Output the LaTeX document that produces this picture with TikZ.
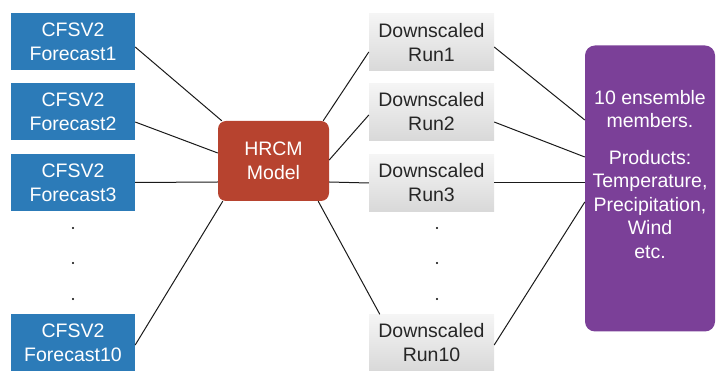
\documentclass[tikz,border=0pt]{standalone}
\usepackage{fontspec}
\setmainfont{Liberation Sans}
\definecolor{cfsblue}{HTML}{2C7BB8}
\definecolor{hrred}{HTML}{B7432F}
\definecolor{prodpurple}{HTML}{7B4098}
\definecolor{linegray}{HTML}{1A1A1A}
\tikzset{
  fcbox/.style={rectangle, fill=cfsblue, text=white, minimum width=124pt, minimum height=57pt, align=center, inner sep=0pt, font=\fontsize{19.5pt}{24pt}\selectfont},
  runbox/.style={rectangle, top color=gray!8, bottom color=gray!30, text=black!85, minimum width=125pt, minimum height=57pt, align=center, inner sep=0pt, font=\fontsize{19.5pt}{24pt}\selectfont},
  modelbox/.style={rectangle, rounded corners=8pt, fill=hrred, text=white, minimum width=111pt, minimum height=80pt, align=center, inner sep=0pt, font=\fontsize{19.5pt}{24pt}\selectfont},
  prodbox/.style={rectangle, rounded corners=10pt, fill=prodpurple, minimum width=130pt, minimum height=286pt, inner sep=0pt},
  prodtext/.style={text=white, align=center, inner sep=0pt, font=\fontsize{19.5pt}{23.5pt}\selectfont},
  dotmark/.style={circle, fill=black, minimum size=2.4pt, inner sep=0pt},
  conn/.style={draw=linegray, line width=1pt}
}
\begin{document}
\begin{tikzpicture}[x=1pt, y=-1pt]
\useasboundingbox (0,0) rectangle (726,371);
% left column
\node[fcbox] (f1) at (73,41.5) {CFSV2\\Forecast1};
\node[fcbox] (f2) at (73,111.5) {CFSV2\\Forecast2};
\node[fcbox] (f3) at (73,182.5) {CFSV2\\Forecast3};
\node[fcbox] (f10) at (73,342.5) {CFSV2\\Forecast10};
\node[dotmark] (fd1) at (73,228) {};
\node[dotmark] (fd2) at (73,263) {};
\node[dotmark] (fd3) at (73,299) {};
% model
\node[modelbox] (hr) at (273.5,161) {HRCM\\Model};
% runs
\node[runbox] (r1) at (431.5,42.5) {Downscaled\\Run1};
\node[runbox] (r2) at (431.5,112) {Downscaled\\Run2};
\node[runbox] (r3) at (431.5,183) {Downscaled\\Run3};
\node[runbox] (r10) at (431.5,343) {Downscaled\\Run10};
\node[dotmark] (rd1) at (437,228) {};
\node[dotmark] (rd2) at (437,263) {};
\node[dotmark] (rd3) at (437,299) {};
% products
\node[prodbox] (pr) at (650,188.5) {};
\node[prodtext] (ptxt) at (650,174.5) {10 ensemble\\members.\\[13pt]Products:\\Temperature,\\Precipitation,\\Wind\\etc.};
% connectors left
\draw[conn] ([yshift=-5.5pt]f1.east) -- ([xshift=4pt]hr.north west);
\draw[conn] ([yshift=-10.5pt]f2.east) -- ([yshift=8pt]hr.west);
\draw[conn] ([yshift=0pt]f3.east) -- ([yshift=-21pt]hr.west);
\draw[conn] ([yshift=-2.5pt]f10.east) -- ([xshift=5pt]hr.south west);
% connectors middle
\draw[conn] ([xshift=-6pt]hr.north east) -- ([yshift=-9.5pt]r1.west);
\draw[conn] ([yshift=1pt]hr.east) -- ([yshift=-3pt]r2.west);
\draw[conn] ([yshift=-21pt]hr.east) -- ([yshift=0pt]r3.west);
\draw[conn] ([xshift=-11pt]hr.south east) -- ([xshift=11pt]r10.north west);
% connectors right
\draw[conn] ([yshift=-4.5pt]r1.east) -- ([yshift=68.5pt]pr.west);
\draw[conn] ([yshift=-10pt]r2.east) -- ([yshift=31.5pt]pr.west);
\draw[conn] ([yshift=0pt]r3.east) -- ([yshift=5.5pt]pr.west);
\draw[conn] ([yshift=-2pt]r10.east) -- ([yshift=-13.5pt]pr.west);
\end{tikzpicture}
\end{document}
